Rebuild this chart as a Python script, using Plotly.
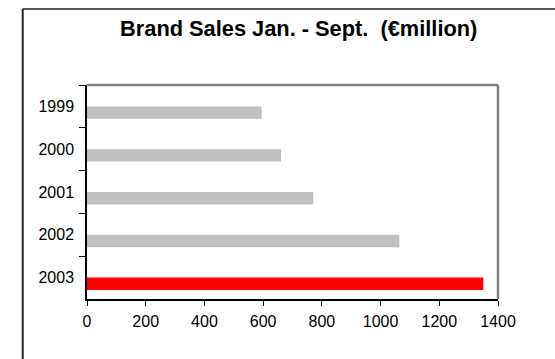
import plotly.graph_objects as go

# Brand sales, January to September, in € million
years = ["1999", "2000", "2001", "2002", "2003"]
sales = [595, 661, 771, 1064, 1350]
bar_colors = ["#C0C0C0", "#C0C0C0", "#C0C0C0", "#C0C0C0", "#FF0000"]
x_ticks = [0, 200, 400, 600, 800, 1000, 1200, 1400]

W, H = 555, 359
fig = go.Figure(
    go.Bar(
        x=sales,
        y=years,
        orientation="h",
        marker=dict(color=bar_colors, line=dict(width=0)),
        width=0.29,
        offset=0,
        hoverinfo="x+y",
    )
)

font = "Liberation Sans, Arial, sans-serif"
tick_font = dict(family=font, size=16, color="black")

fig.update_layout(
    width=W,
    height=H,
    margin=dict(l=87, r=57, t=85, b=60),
    paper_bgcolor="white",
    plot_bgcolor="white",
    showlegend=False,
    font=dict(family=font, size=16, color="black"),
    title=dict(
        text="<b>Brand Sales Jan. - Sept.\u00a0\u00a0(€million)</b>",
        x=298.7 / W,
        xanchor="center",
        xref="container",
        y=1 - 28.3 / H,
        yanchor="middle",
        yref="container",
        font=dict(family=font, size=21.8, color="black"),
    ),
    xaxis=dict(
        range=[0, 1400],
        tickvals=x_ticks,
        ticktext=[str(v) for v in x_ticks],
        tickfont=tick_font,
        ticklabelstandoff=2,
        showgrid=False,
        zeroline=False,
        showline=True,
        linecolor="black",
        linewidth=1.5,
        ticks="outside",
        ticklen=5,
        tickwidth=1.2,
        tickcolor="black",
        fixedrange=True,
    ),
    yaxis=dict(
        type="category",
        categoryorder="array",
        categoryarray=years,
        autorange="reversed",
        tickfont=tick_font,
        ticklabelstandoff=8,
        showgrid=False,
        zeroline=False,
        showline=True,
        linecolor="black",
        linewidth=1.5,
        ticks="outside",
        tickson="boundaries",
        ticklen=6,
        tickwidth=1.2,
        tickcolor="black",
        fixedrange=True,
    ),
    shapes=[
        # grey frame along the top and right of the plot area
        dict(type="line", xref="x domain", yref="y domain", x0=0, x1=1, y0=1, y1=1,
             line=dict(color="#808080", width=2.5), layer="below"),
        dict(type="line", xref="x domain", yref="y domain", x0=1, x1=1, y0=0, y1=1,
             line=dict(color="#808080", width=2.5), layer="below"),
        # outer chart border (top and left edges)
        dict(type="line", xref="paper", yref="paper",
             x0=(22.7 - 87) / (W - 87 - 57), x1=(W + 5 - 87) / (W - 87 - 57),
             y0=(H - 60 - 9) / (H - 85 - 60), y1=(H - 60 - 9) / (H - 85 - 60),
             line=dict(color="#222222", width=1.5)),
        dict(type="line", xref="paper", yref="paper",
             x0=(22.7 - 87) / (W - 87 - 57), x1=(22.7 - 87) / (W - 87 - 57),
             y0=(H - 60 - 9) / (H - 85 - 60), y1=(-5 - 60) / (H - 85 - 60),
             line=dict(color="#222222", width=2)),
    ],
)

fig.write_html("out.html")
